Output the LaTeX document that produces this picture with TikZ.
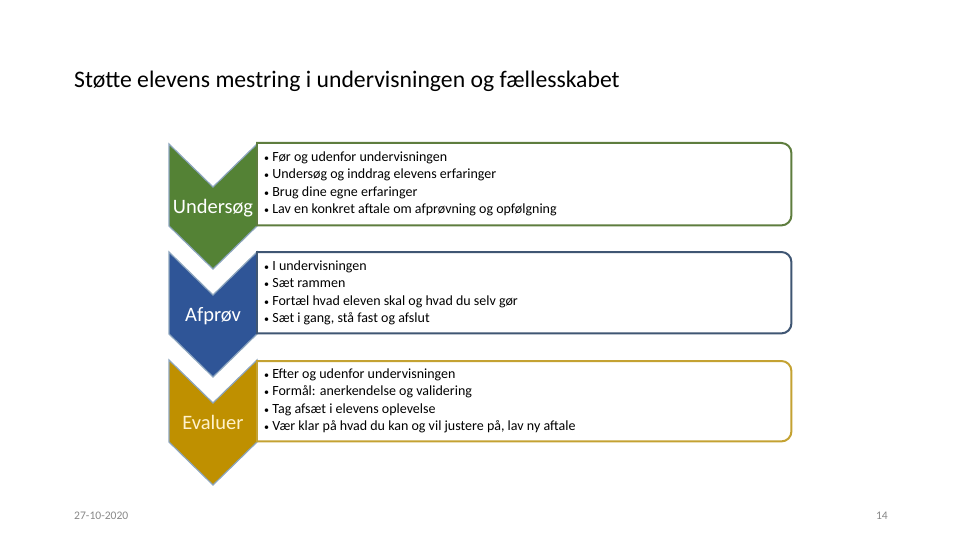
\documentclass[tikz,border=0pt]{standalone}
\usepackage{fontspec}
\setmainfont{Carlito}
\definecolor{cgreen}{HTML}{548235}
\definecolor{cblue}{HTML}{2F5597}
\definecolor{cgold}{HTML}{BF9000}
\definecolor{bgreen}{HTML}{5E7D3E}
\definecolor{bblue}{HTML}{3F5673}
\definecolor{bgold}{HTML}{C4A232}
\definecolor{edge}{HTML}{8CA5BE}
\definecolor{foot}{HTML}{898989}
\newcommand{\bul}{{\fontsize{10}{10}\selectfont•}\ }
\tikzset{
  chev/.style={draw=edge, line width=1.2pt, line join=miter},
  chevlabel/.style={text=white, font=\fontsize{20.5}{24}\selectfont, inner sep=0pt, anchor=base},
  item/.style={font=\fontsize{14}{16}\selectfont, inner sep=0pt, anchor=base west, text=black},
  boxline/.style={line width=2pt, line cap=rect},
}
\begin{document}
\begin{tikzpicture}[x=1pt,y=-1pt]
\useasboundingbox (0,0) rectangle (960,540);
\fill[white] (0,0) rectangle (960,540);
% title
\node[font=\fontsize{23.7}{28}\selectfont, anchor=base west, inner sep=0pt] (title) at (74,88) {Støtte elevens mestring i undervisningen og fællesskabet};
% chevrons
\foreach \T/\col/\nm in {144/cgreen/c1, 252/cblue/c2, 360/cgold/c3}{
  \pgfmathsetmacro{\B}{\T+82}
  \filldraw[chev, fill=\col] (169,\T) -- (213,\T+43) -- (257,\T) -- (257,\B) -- (213,\B+43) -- (169,\B) -- cycle;
}
\node[chevlabel] (l1) at (213,213.5) {Undersøg};
\node[chevlabel] (l2) at (213,321.5) {Afprøv};
\node[chevlabel, text={rgb,255:red,255;green,242;blue,204}] (l3) at (213,429.5) {Evaluer};
% boxes
\foreach \T/\B/\col/\nm in {143/225/bgreen/b1, 252/333/bblue/b2, 361/441/bgold/b3}{
  \node[inner sep=0pt, minimum width=534pt, minimum height=\B-\T, anchor=north west, fill=white] (\nm) at (257,\T) {};
  \draw[boxline, draw=\col] (\nm.south west) -- (\nm.north west);
  \draw[boxline, draw=\col, rounded corners=10pt] (\nm.north west) -- (\nm.north east) -- (\nm.south east) -- (\nm.south west);
}
% items
\node[item] (a1) at (264,161) {\bul Før og udenfor undervisningen};
\node[item] (a2) at (264,178.6) {\bul Undersøg og inddrag elevens erfaringer};
\node[item] (a3) at (264,196.2) {\bul Brug dine egne erfaringer};
\node[item] (a4) at (264,213.8) {\bul Lav en konkret aftale om afprøvning og opfølgning};
\node[item] (b1t) at (264,270) {\bul I undervisningen};
\node[item] (b2t) at (264,287.6) {\bul Sæt rammen};
\node[item] (b3t) at (264,305.2) {\bul Fortæl hvad eleven skal og hvad du selv gør};
\node[item] (b4t) at (264,322.8) {\bul Sæt i gang, stå fast og afslut};
\node[item] (c1t) at (264,378) {\bul Efter og udenfor undervisningen};
\node[item] (c2t) at (264,395.6) {\bul Formål: anerkendelse og validering};
\node[item] (c3t) at (264,413.2) {\bul Tag afsæt i elevens oplevelse};
\node[item] (c4t) at (264,430.8) {\bul Vær klar på hvad du kan og vil justere på, lav ny aftale};
% footer
\node[font=\fontsize{11.6}{14}\selectfont, text=foot, anchor=base west, inner sep=0pt] (date) at (74,519) {27-10-2020};
\node[font=\fontsize{11.6}{14}\selectfont, text=foot, anchor=base east, inner sep=0pt] (page) at (888,519) {14};
\end{tikzpicture}
\end{document}
